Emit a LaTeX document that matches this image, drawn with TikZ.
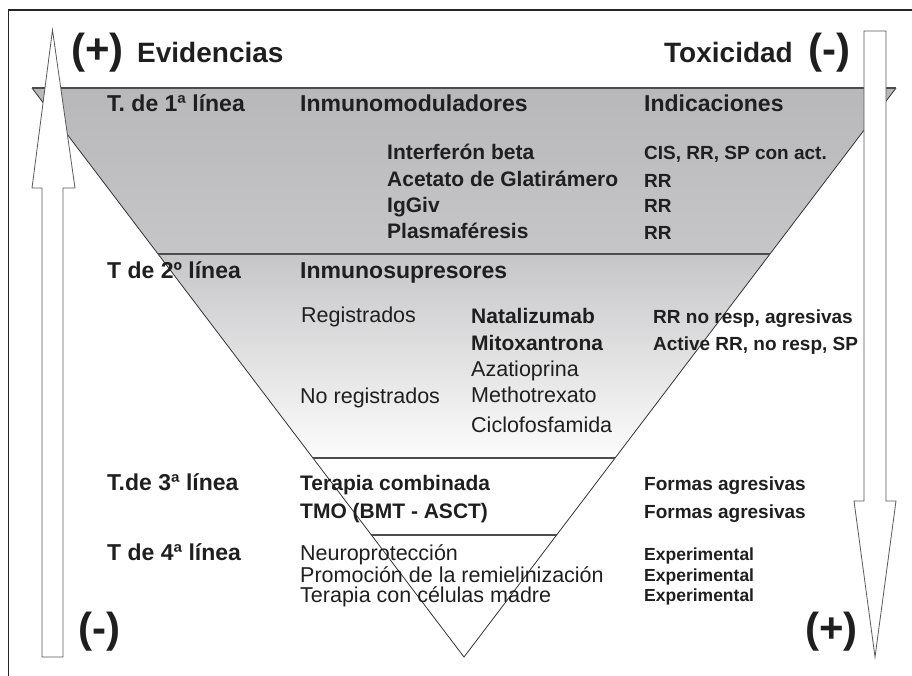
\documentclass[tikz,border=0pt]{standalone}
\usepackage{fontspec}
\setmainfont{Liberation Sans}
\usepackage{xcolor}
\usetikzlibrary{calc}
\definecolor{bandtop}{RGB}{184,184,186}
\definecolor{bandmid}{RGB}{198,198,200}
\definecolor{bandlow}{RGB}{252,252,252}

\begin{document}
\begin{tikzpicture}[x=1pt,y=-1pt,
		every node/.style={anchor=base west,inner sep=0pt,text=black!88},
		sign/.style={font=\bfseries\fontsize{42}{42}\selectfont},
		ttl/.style={font=\bfseries\fontsize{28}{30}\selectfont},
		head/.style={font=\bfseries\fontsize{23}{25}\selectfont},
		drug/.style={font=\bfseries\fontsize{21}{23}\selectfont},
		txt/.style={font=\fontsize{21.5}{23}\selectfont},
		indic/.style={font=\bfseries\fontsize{19}{21}\selectfont},
		expt/.style={font=\bfseries\fontsize{17.5}{20}\selectfont},
		band/.style={draw=black!70,line width=1.6pt},
		bigarrow/.style={draw=black!65,fill=white,line width=0.8pt}]
	\useasboundingbox (0,0) rectangle (912,676);
	
	% frame
	\draw[black!85,line width=1.5pt] (8.5,676) -- (8.5,10) -- (912,10);
	
	% inverted triangle
	\coordinate (tl) at (32,88);
	\coordinate (tr) at (896,88);
	\coordinate (ap) at (464,657);
	\coordinate (a1) at ($(tl)!0.2917!(ap)$);
	\coordinate (b1) at ($(tr)!0.2917!(ap)$);
	\coordinate (a2) at ($(tl)!0.6503!(ap)$);
	\coordinate (b2) at ($(tr)!0.6503!(ap)$);
	\coordinate (a3) at ($(tl)!0.7856!(ap)$);
	\coordinate (b3) at ($(tr)!0.7856!(ap)$);
	\begin{scope}
		\clip (tl) -- (tr) -- (ap) -- cycle;
		\shade[top color=bandtop,bottom color=bandmid] (0,88) rectangle (912,254);
		\shade[top color=bandmid,bottom color=bandlow] (0,254) rectangle (912,458);
	\end{scope}
	\draw[black!80,line width=0.8pt] (tl) -- (ap) -- (tr);
	\draw[band] (tl) -- (tr);
	\draw[band] (a1) -- (b1);
	\draw[band] (a2) -- (b2);
	\draw[band] (a3) -- (b3);
	
	% arrows
	\draw[bigarrow] (42,657) -- (42,188) -- (32,188) -- (52.5,30) -- (75,188)
		-- (63,188) -- (63,657) -- cycle;
	\draw[bigarrow] (864,31) -- (886,31) -- (886,501) -- (896,501) -- (875,657)
		-- (854,501) -- (864,501) -- cycle;
	
	% top and bottom labels
	\node[sign] (evs) at (71,64) {(+)};
	\node[ttl] (ev) at (137,63) {Evidencias};
	\node[ttl] (tox) at (664,63) {Toxicidad};
	\node[sign] (txs) at (808,64) {(-)};
	\node[sign] (evl) at (78,642) {(-)};
	\node[sign] (txl) at (805,642) {(+)};
	
	% first line
	\node[head] (l1) at (107,112) {T. de 1ª línea};
	\node[head] (inm) at (300,112) {Inmunomoduladores};
	\node[head] (ind) at (644,112) {Indicaciones};
	\node[drug] (ifn) at (387,160) {Interferón beta};
	\node[drug] (gla) at (387,187) {Acetato de Glatirámero};
	\node[drug] (igg) at (387,213) {IgGiv};
	\node[drug] (pla) at (387,239) {Plasmaféresis};
	\node[indic] (ifni) at (644,160) {CIS, RR, SP con act.};
	\node[indic] (glai) at (644,188) {RR};
	\node[indic] (iggi) at (644,213) {RR};
	\node[indic] (plai) at (644,240) {RR};
	
	% second line
	\node[head] (l2) at (107,278) {T de 2º línea};
	\node[head] (sup) at (300,278) {Inmunosupresores};
	\node[txt] (reg) at (301,322) {Registrados};
	\node[txt] (noreg) at (300,403) {No registrados};
	\node[drug] (nat) at (471,323) {Natalizumab};
	\node[drug] (mit) at (471,350) {Mitoxantrona};
	\node[txt] (aza) at (471,376) {Azatioprina};
	\node[txt] (met) at (471,402) {Methotrexato};
	\node[txt] (cic) at (471,432) {Ciclofosfamida};
	\node[indic] (nati) at (653,323) {RR no resp, agresivas};
	\node[indic] (miti) at (653,350) {Active RR, no resp, SP};
	
	% third line
	\node[head] (l3) at (107,490) {T.de 3ª línea};
	\node[drug] (comb) at (300,490) {Terapia combinada};
	\node[drug] (tmo) at (300,518) {TMO (BMT - ASCT)};
	\node[indic] (combi) at (644,490) {Formas agresivas};
	\node[indic] (tmoi) at (644,518) {Formas agresivas};
	
	% fourth line
	\node[head] (l4) at (107,560) {T de 4ª línea};
	\node[txt] (neu) at (300,560) {Neuroprotección};
	\node[txt] (rem) at (300,582) {Promoción de la remielinización};
	\node[txt] (cel) at (300,602) {Terapia con células madre};
	\node[expt] (neui) at (644,560) {Experimental};
	\node[expt] (remi) at (644,581) {Experimental};
	\node[expt] (celi) at (644,601) {Experimental};
\end{tikzpicture}
\end{document}
